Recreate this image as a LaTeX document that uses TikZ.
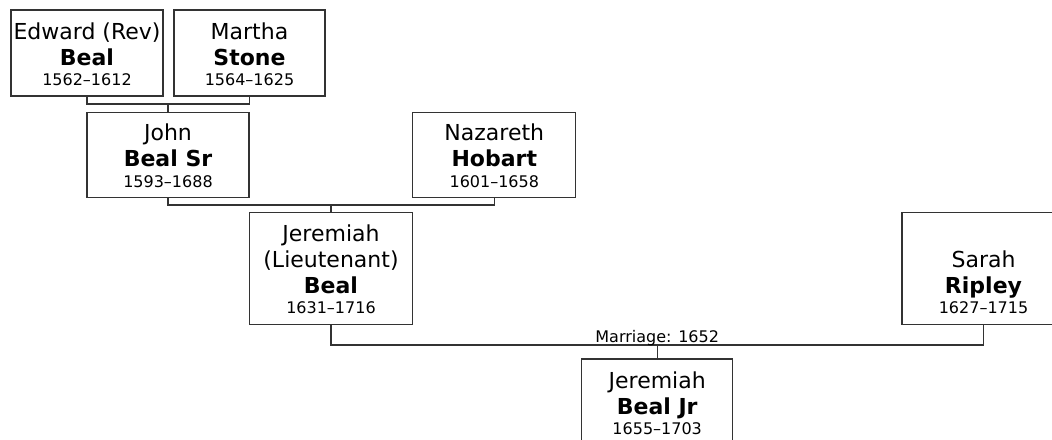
\documentclass[tikz,border=0pt]{standalone}
\usepackage{fontspec}
\setmainfont{DejaVu Sans}
\usepackage{tikz}
\usetikzlibrary{positioning}
\newcommand{\lifespan}[1]{{\fontsize{12}{14}\selectfont #1}}

\begin{document}
\begin{tikzpicture}[
  x=0.75pt, y=-0.75pt,
  font=\fontsize{16.5}{19.5}\selectfont,
  p/.style={draw=black!80, line width=0.8pt, align=center, inner xsep=0pt, inner ysep=0pt,
            text height=56.8pt, text depth=7.7pt, minimum width=#1},
  p/.default=114pt,
  tall/.style={text height=75.9pt},
  ln/.style={draw=black!80, line width=0.8pt},
  lab/.style={font=\fontsize{12}{14}\selectfont, inner sep=0pt}]
\useasboundingbox (0,0) rectangle (1052,439);
\clip (0,0) rectangle (1052,439);
\node[p=114pt] (edward) at (87, 53) {Edward (Rev)\\\textbf{Beal}\\[-4pt]\lifespan{1562–1612}};
\node[p=113.25pt] (martha) at (249.5, 53) {Martha\\\textbf{Stone}\\[-4pt]\lifespan{1564–1625}};
\node[p=121.5pt, text height=56.3pt] (john) at (168, 154.7) {John\\\textbf{Beal Sr}\\[-4pt]\lifespan{1593–1688}};
\node[p=122.25pt, text height=56.3pt] (nazareth) at (494.3, 154.7) {Nazareth\\\textbf{Hobart}\\[-4pt]\lifespan{1601–1658}};
\node[p=122.25pt, tall] (jeremiah) at (331, 268.5) {Jeremiah\\(Lieutenant)\\\textbf{Beal}\\[-4pt]\lifespan{1631–1716}};
\node[p=122.25pt, tall] (sarah) at (983.5, 268.5) {Sarah\\\textbf{Ripley}\\[-4pt]\lifespan{1627–1715}};
\node[p=113.25pt] (jr) at (657.2, 402) {Jeremiah\\\textbf{Beal Jr}\\[-4pt]\lifespan{1655–1703}};
% couple bars
\coordinate (c1) at (168, 104);
\coordinate (c2) at (331, 205);
\coordinate (c3) at (657.2, 345);
\draw[ln] (edward.south) |- (c1) -| (martha.south);
\draw[ln] (c1) -- (john.north);
\draw[ln] (john.south) |- (c2) -| (nazareth.south);
\draw[ln] (c2) -- (jeremiah.north);
\draw[ln] (jeremiah.south) |- (c3) -| (sarah.south);
\draw[ln] (c3) -- (jr.north);
\node[lab, anchor=base] (wed) at (657.2, 342) {Marriage: 1652};
\end{tikzpicture}
\end{document}
